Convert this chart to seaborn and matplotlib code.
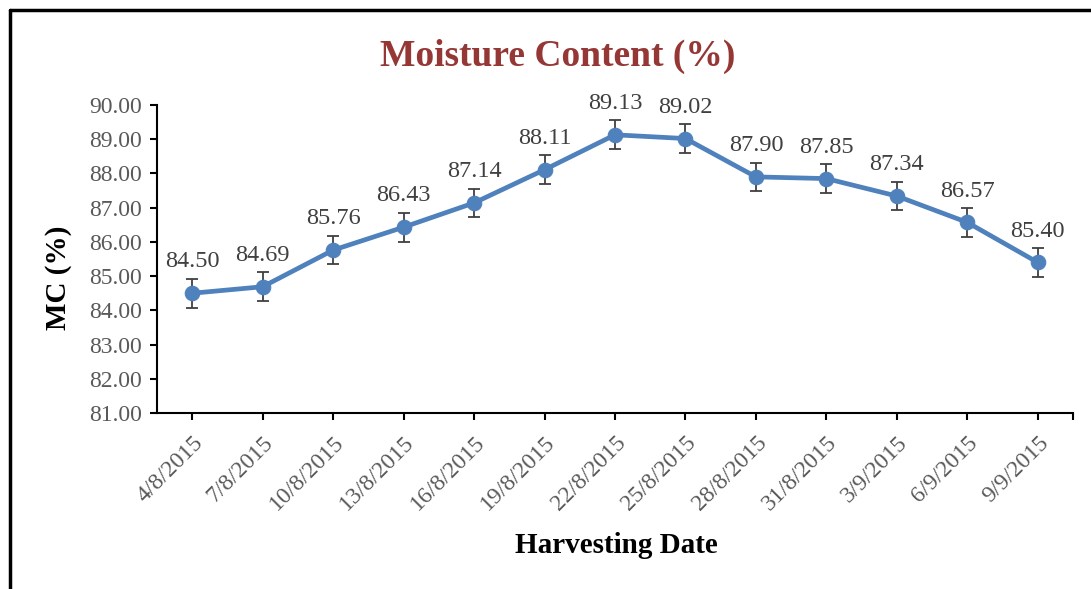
import matplotlib
matplotlib.use("Agg")
import matplotlib.pyplot as plt
import matplotlib.ticker as mticker
from matplotlib.lines import Line2D
import pandas as pd
import seaborn as sns

dates = ['4/8/2015', '7/8/2015', '10/8/2015', '13/8/2015', '16/8/2015', '19/8/2015',
         '22/8/2015', '25/8/2015', '28/8/2015', '31/8/2015', '3/9/2015', '6/9/2015', '9/9/2015']
mc = [84.50, 84.69, 85.76, 86.43, 87.14, 88.11, 89.13, 89.02, 87.90, 87.85, 87.34, 86.57, 85.40]
err = [0.42, 0.42, 0.42, 0.42, 0.42, 0.42, 0.42, 0.42, 0.42, 0.42, 0.42, 0.42, 0.42]

sns.set_theme(style='white')
plt.rcParams['font.family'] = ['Liberation Serif', 'DejaVu Serif']

df = pd.DataFrame({'date': dates, 'mc': mc, 'err': err})

fig = plt.figure(figsize=(10.91, 5.89), dpi=100)
ax = fig.add_axes([0.1439, 0.2988, 0.8396, 0.5229])

blue = '#4F81BD'
ax.errorbar(range(len(df)), df['mc'], yerr=df['err'], fmt='none', ecolor='#404040',
            elinewidth=1.3, capsize=4, capthick=1.3, zorder=1)
sns.lineplot(x='date', y='mc', data=df, ax=ax, color=blue, linewidth=3.4, marker='o',
             markersize=10.5, markeredgecolor=blue, sort=False, zorder=2)

# value labels above each point
for i, v in enumerate(df['mc']):
    ax.annotate('{:.2f}'.format(v), (i, v), xytext=(0, 15), textcoords='offset points',
                ha='center', va='bottom', fontsize=17.5, color='#404040')

ax.set_xlim(-0.5, len(df) - 0.5)
ax.set_ylim(81, 90)
ax.yaxis.set_major_locator(mticker.MultipleLocator(1))
ax.yaxis.set_major_formatter(mticker.FormatStrFormatter('%.2f'))
ax.set_xticks(range(len(df)))
ax.set_xticklabels(dates, rotation=45, ha='right', rotation_mode='anchor')
ax.xaxis.set_minor_locator(mticker.FixedLocator([len(df) - 0.5]))

for side in ['top', 'right']:
    ax.spines[side].set_visible(False)
for side in ['left', 'bottom']:
    ax.spines[side].set_color('black')
    ax.spines[side].set_linewidth(1.5)
ax.tick_params(axis='both', which='both', direction='out', length=5, width=1.5,
               color='black', labelsize=17, labelcolor='#595959', bottom=True, left=True)
ax.tick_params(axis='y', pad=6)
ax.tick_params(axis='x', pad=9)

ax.set_xlabel('Harvesting Date', fontsize=21, fontweight='bold', color='black')
ax.set_ylabel('MC (%)', fontsize=21, fontweight='bold', color='black')
ax.xaxis.set_label_coords(0.501, -0.385)
ax.yaxis.set_label_coords(-0.093, 0.438)
fig.text(0.511, 0.905, 'Moisture Content (%)', ha='center', va='center',
         fontsize=27, fontweight='bold', color='#953735')

# outer frame (left and top edges)
fig.add_artist(Line2D([0.0092, 0.0092], [0.0, 0.983], transform=fig.transFigure,
                      color='black', linewidth=2.5))
fig.add_artist(Line2D([0.0092, 1.0], [0.983, 0.983], transform=fig.transFigure,
                      color='black', linewidth=2.5))

plt.savefig('out.png', dpi=100)
